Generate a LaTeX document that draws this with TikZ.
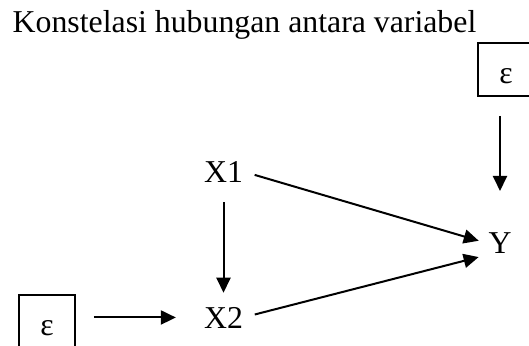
\documentclass[tikz,border=0pt]{standalone}
\usepackage{fontspec}
\setmainfont{Liberation Serif}
\usetikzlibrary{arrows.meta}

\begin{document}
\begin{tikzpicture}[x=1pt,y=-1pt,
    lbl/.style={inner sep=0pt,anchor=base,font=\fontsize{31.8}{38}\selectfont},
    ebox/.style={draw,line width=1.5pt,minimum width=56pt,minimum height=53pt,
                 inner sep=0pt,text height=29pt,font=\fontsize{31.8}{38}\selectfont},
    arr/.style={line width=2pt,-{Triangle[length=15pt,width=14pt]}}]
    % Page size of the picture
    \useasboundingbox (0,0) rectangle (529,345);
    \clip (0,0) rectangle (529,345);

    % Title
    \node[lbl,anchor=base west] (title) at (12.5,33) {Konstelasi hubungan antara variabel};

    % Variables
    \node[lbl] (X1) at (223.5,182) {X1};
    \node[lbl] (X2) at (223.5,328) {X2};
    \node[lbl] (Y) at (500,253) {Y};

    % Error terms (cut by the page edge)
    \node[ebox] (eR) at (506,69.5) {ε};
    \node[ebox] (eL) at (47,321.5) {ε};

    % Paths
    \draw[arr,shorten <=12pt,shorten >=10pt] (X1.east) -- ([yshift=-1pt]Y.west);
    \draw[arr,shorten <=12pt,shorten >=10pt] (X2.east) -- ([yshift=-12pt]Y.west);
    \draw[arr,shorten <=20pt,shorten >=14pt] (X1.south) -- (X2.north);
    \draw[arr,shorten <=19pt,shorten >=41pt] (Y |- eR.south) -- (Y.north);
    \draw[arr,shorten <=18pt,shorten >=28pt] (eL.east |- X2) -- (X2.west);
\end{tikzpicture}
\end{document}
